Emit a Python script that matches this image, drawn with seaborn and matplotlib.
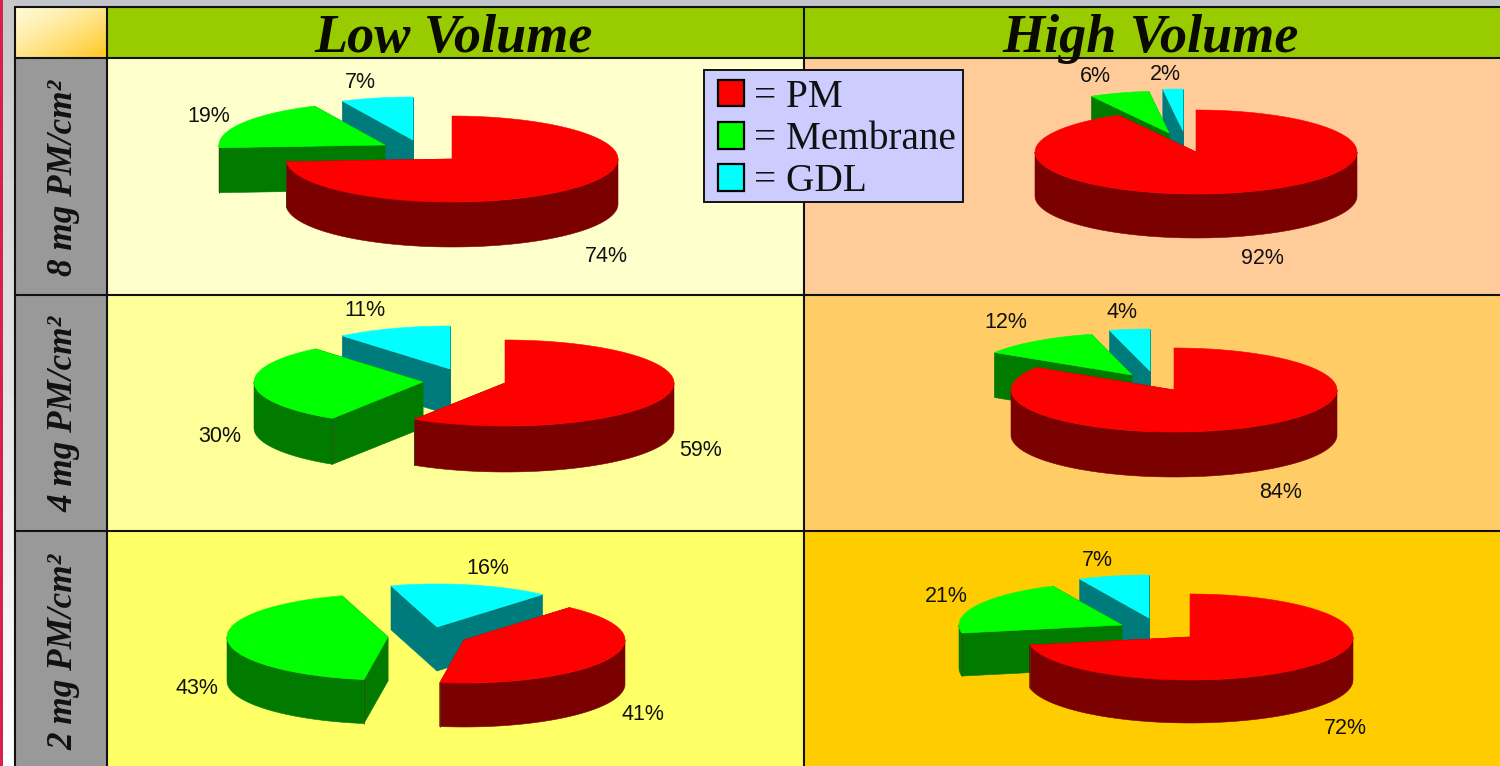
import numpy as np
import matplotlib
matplotlib.use("Agg")
import matplotlib.pyplot as plt
from matplotlib.patches import Patch, Rectangle
import seaborn as sns

# Loss shares (%) for each electrode loading and volume
components = ["PM", "Membrane", "GDL"]
low_8mg = [74, 19, 7]
high_8mg = [92, 6, 2]
low_4mg = [59, 30, 11]
high_4mg = [84, 12, 4]
low_2mg = [41, 43, 16]
high_2mg = [72, 21, 7]

column_titles = ["Low Volume", "High Volume"]
row_titles = ["8 mg PM/cm²", "4 mg PM/cm²", "2 mg PM/cm²"]

sns.set_theme(style="white")
serif = "Liberation Serif"
sans = "Liberation Sans"

top_colors = sns.color_palette(["#FF0000", "#00FF00", "#00FFFF"])
side_colors = sns.color_palette(["#7B0000", "#007B00", "#007B7B"])

# Table geometry in figure pixels
col_edges = [107, 804, 1500]
row_edges = [58, 295, 531, 768]
cell_colors = [["#FFFFCC", "#FFCC99"], ["#FFFF99", "#FFCC66"], ["#FFFF66", "#FFCC00"]]

# Per-pie layout: values, first-slice angle, hub, radii, depth, slice offsets, label anchors
panels = [
    dict(values=low_8mg, start=0, hub=(452, 159), rx=166, ry=43, depth=45,
         offsets=[(0, 0), (-67, -14), (-39, -19)],
         labels=[(606, 256), (209, 116), (360, 82)]),
    dict(values=high_8mg, start=0, hub=(1196, 152), rx=161, ry=42, depth=44,
         offsets=[(0, 0), (-27, -19), (-13, -21)],
         labels=[(1262, 259), (1095, 77), (1165, 74)]),
    dict(values=low_4mg, start=0, hub=(505, 383), rx=169, ry=43, depth=46,
         offsets=[(0, 0), (-82, -1), (-55, -14)],
         labels=[(701, 450), (220, 436), (365, 311)]),
    dict(values=high_4mg, start=0, hub=(1174, 390), rx=163, ry=42, depth=45,
         offsets=[(0, 0), (-42, -15), (-24, -19)],
         labels=[(1281, 493), (1006, 323), (1122, 312)]),
    dict(values=low_2mg, start=41, hub=(464, 640), rx=161, ry=43, depth=44,
         offsets=[(0, 0), (-76, -3), (-27, -13)],
         labels=[(643, 714), (197, 689), (488, 568)]),
    dict(values=high_2mg, start=0, hub=(1190, 637), rx=163, ry=43, depth=43,
         offsets=[(0, 0), (-68, -12), (-41, -19)],
         labels=[(1345, 728), (946, 596), (1097, 560)]),
]


def rim(theta, hub, rx, ry):
    """Points on the top ellipse; theta is clockwise from twelve o'clock, in degrees."""
    t = np.radians(theta)
    return hub[0] + rx * np.sin(t), hub[1] - ry * np.cos(t)


def draw_slice(ax, hub, rx, ry, depth, a0, a1, top, side):
    theta = np.linspace(a0, a1, 160)
    xs, ys = rim(theta, hub, rx, ry)
    common = dict(linewidth=0.4, zorder=3)

    # Cut faces running from the apex to the rim
    for edge in (a0, a1):
        ex, ey = rim(edge, hub, rx, ry)
        ax.fill([hub[0], ex, ex, hub[0]], [hub[1], ey, ey + depth, hub[1] + depth],
                facecolor=side, edgecolor=side, **common)

    # Outer wall: only the part of the rim that faces the viewer
    lo, hi = max(a0, 90), min(a1, 270)
    if hi > lo:
        wall = np.linspace(lo, hi, 120)
        wx, wy = rim(wall, hub, rx, ry)
        ax.fill(np.r_[wx, wx[::-1]], np.r_[wy, wy[::-1] + depth],
                facecolor=side, edgecolor=side, **common)
        # Thin crease where the wall meets a cut face
        for edge in (a0, a1):
            if 90 < edge < 270:
                ex, ey = rim(edge, hub, rx, ry)
                ax.plot([ex, ex], [ey, ey + depth], color=(0.25, 0.25, 0.1), linewidth=0.5, zorder=3)

    ax.fill(np.r_[hub[0], xs], np.r_[hub[1], ys], facecolor=top, edgecolor=top, **common)


fig = plt.figure(figsize=(15, 7.66), dpi=100)
ax = fig.add_axes([0, 0, 1, 1])
ax.axis("off")

# Page margin around the table
ax.add_patch(Rectangle((0, 0), 1500, 7, facecolor="#C2C6CA", edgecolor="none", zorder=0))
margin = np.linspace(0.78, 1.0, 64).reshape(-1, 1)
ax.imshow(margin, extent=(2.5, 15, 766, 0), cmap="gray", vmin=0, vmax=1, aspect="auto", zorder=0)
ax.add_patch(Rectangle((0, 0), 2.5, 766, facecolor="#D8204C", edgecolor="none", zorder=1))

# Corner swatch with a diagonal gradient
gx, gy = np.meshgrid(np.linspace(0, 1, 64), np.linspace(0, 1, 64))
mix = ((gx + gy) / 2)[..., None] ** 1.3
pale, gold = np.array([1.0, 0.98, 0.84]), np.array([1.0, 0.78, 0.12])
ax.imshow(pale + (gold - pale) * mix, extent=(15, 107, 58, 7), aspect="auto", zorder=1)

ax.set_xlim(0, 1500)
ax.set_ylim(766, 0)

# Header band and row-title column
ax.add_patch(Rectangle((107, 7), 1393, 51, facecolor="#99CC00", edgecolor="none", zorder=1))
ax.add_patch(Rectangle((15, 58), 92, 708, facecolor="#999999", edgecolor="none", zorder=1))

# Body cells
for r in range(3):
    for c in range(2):
        ax.add_patch(Rectangle((col_edges[c], row_edges[r]), col_edges[c + 1] - col_edges[c],
                               row_edges[r + 1] - row_edges[r],
                               facecolor=cell_colors[r][c], edgecolor="none", zorder=1))

# Grid lines
grid = dict(color="#111111", linewidth=1.5, zorder=2)
for x in (15, 107, 804):
    ax.plot([x, x], [7, 766], **grid)
for y in (7, 58, 295, 531):
    ax.plot([15, 1500], [y, y], **grid)

# Pies
for p in panels:
    total = sum(p["values"])
    shares = np.array(p["values"]) / total * 360
    ends = p["start"] + np.cumsum(shares)
    starts = ends - shares
    # Back slices first so the larger front slices overlap them
    for i in (2, 1, 0):
        hub = (p["hub"][0] + p["offsets"][i][0], p["hub"][1] + p["offsets"][i][1])
        draw_slice(ax, hub, p["rx"], p["ry"], p["depth"], starts[i], ends[i],
                   top_colors[i], side_colors[i])
    for value, (lx, ly) in zip(p["values"], p["labels"]):
        ax.text(lx, ly, f"{value}%", ha="center", va="center", family=sans,
                fontsize=15.5, color="#111111", zorder=5)

# Column and row titles
for title, x in zip(column_titles, (454, 1151)):
    ax.text(x, 52, title, ha="center", va="baseline", family=serif, style="italic",
            weight="bold", fontsize=39, color="#0A0A00", zorder=6)
for title, y in zip(row_titles, (178, 414, 652)):
    ax.text(64, y, title, ha="center", va="center", rotation=90, family=serif,
            style="italic", weight="bold", fontsize=25.3, color="#111111", zorder=6)

# Legend box with its entries on top
ax.add_patch(Rectangle((704, 70), 259, 132, facecolor="#CCCCFF", edgecolor="#111111",
                       linewidth=1.4, zorder=7))
handles = [Patch(facecolor=c, edgecolor="black", linewidth=1.6) for c in top_colors]
legend = ax.legend(handles, [f"= {name}" for name in components],
                   loc="upper left", bbox_to_anchor=(718 / 1500, 1 - 79 / 766),
                   bbox_transform=ax.transAxes, borderaxespad=0, frameon=False,
                   prop=dict(family=serif, size=28.3), labelcolor="#111111",
                   handlelength=0.66, handleheight=0.66, handletextpad=0.25,
                   labelspacing=0.13, borderpad=0)
legend.set_zorder(8)

fig.savefig("out.png", dpi=100)
